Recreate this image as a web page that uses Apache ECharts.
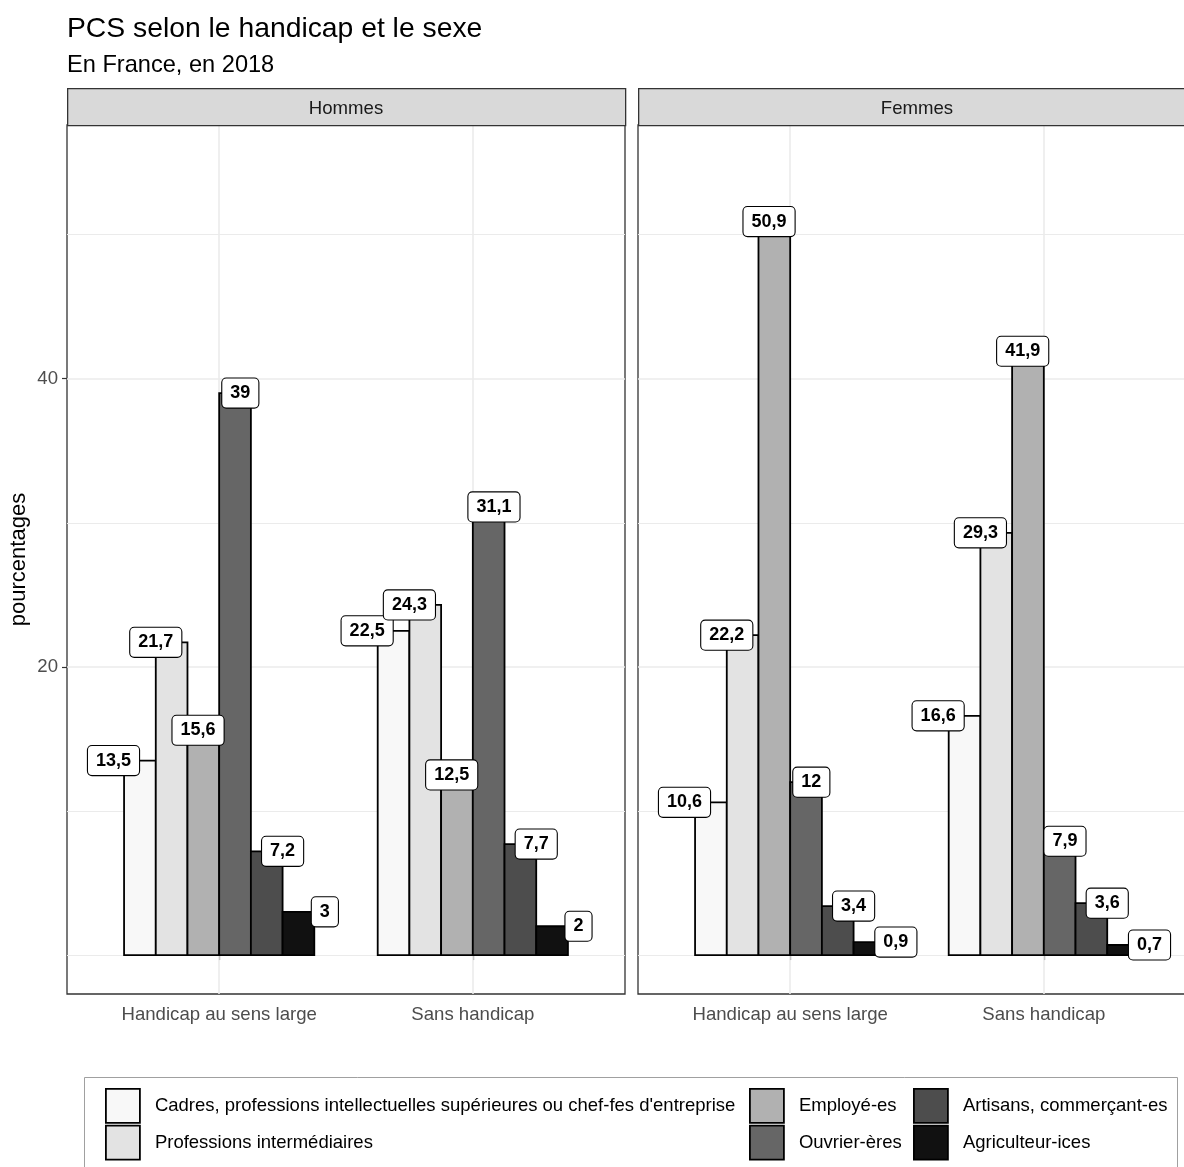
<!DOCTYPE html>
<html>
<head>
<meta charset="utf-8">
<script src="https://cdn.jsdelivr.net/npm/echarts@6/dist/echarts.min.js"></script>
<style>html,body{margin:0;padding:0;background:#fff;overflow:hidden;width:1184px;height:1167px}#chart{width:1200px;height:1167px}</style>
</head>
<body>
<div id="chart"></div>
<script>
// ---- data ----
const categories = [
  "Cadres, professions intellectuelles supérieures ou chef-fes d'entreprise",
  "Professions intermédiaires",
  "Employé-es",
  "Ouvrier-ères",
  "Artisans, commerçant-es",
  "Agriculteur-ices"
];
const groups = ["Handicap au sens large", "Sans handicap"];
const facets = ["Hommes", "Femmes"];
const hommesHandicap = [13.5, 21.7, 15.6, 39, 7.2, 3];
const hommesSans     = [22.5, 24.3, 12.5, 31.1, 7.7, 2];
const femmesHandicap = [10.6, 22.2, 50.9, 12, 3.4, 0.9];
const femmesSans     = [16.6, 29.3, 41.9, 7.9, 3.6, 0.7];
const yTicks = [20, 40];
const yGrid = [0, 10, 20, 30, 40, 50];

// ---- styles ----
const fills = ['#F8F8F8', '#E3E3E3', '#B1B1B1', '#666666', '#4D4D4D', '#111111'];
const FONT = "'Liberation Sans', Arial, sans-serif";
const BAR_W = 0.125;      // width of one dodged bar (axis units)
const LABEL_DODGE = 1 / 6; // label dodge spacing (axis units)

const facetData = [[hommesHandicap, hommesSans], [femmesHandicap, femmesSans]];

const chart = echarts.init(document.getElementById('chart'), null, {renderer: 'canvas', width: 1200, height: 1167});

const gridLeft = [67, 638];
const grids = gridLeft.map(l => ({left: l, top: 125, width: 558, height: 869, show: true,
  borderColor: '#333333', borderWidth: 1.3, backgroundColor: '#fff'}));

const xAxes = grids.map((g, f) => ({
  type: 'value', gridIndex: f, min: 0.4, max: 2.6,
  axisLine: {show: false},
  splitLine: {show: false},
  axisTick: {show: true, customValues: [1, 2], length: 5, lineStyle: {color: '#333333', width: 1.2}},
  axisLabel: {show: true, customValues: [1, 2], margin: 11, color: '#4D4D4D', fontSize: 18.6, fontFamily: FONT,
    formatter: v => groups[Math.round(v) - 1]}
}));
const yAxes = grids.map((g, f) => ({
  type: 'value', gridIndex: f, min: -2.7, max: 57.6,
  axisLine: {show: false},
  splitLine: {show: false},
  axisTick: {show: f === 0, customValues: yTicks, length: 5, lineStyle: {color: '#333333', width: 1.2}},
  axisLabel: {show: f === 0, customValues: yTicks, margin: 9, color: '#4D4D4D', fontSize: 18.6, fontFamily: FONT},
  name: f === 0 ? 'pourcentages' : '',
  nameLocation: 'middle', nameGap: 37,
  nameTextStyle: {color: '#000', fontSize: 22, fontFamily: FONT}
}));

const series = [];
facetData.forEach((fd, f) => {
  // grid lines
  series.push({
    type: 'line', xAxisIndex: f, yAxisIndex: f, data: [], silent: true, z: 1,
    markLine: {
      silent: true, symbol: 'none', label: {show: false}, animation: false,
      lineStyle: {color: '#EBEBEB', type: 'solid', width: 1.3},
      data: yGrid.map(v => ({yAxis: v, lineStyle: {width: yTicks.includes(v) ? 1.6 : 1}}))
        .concat([1, 2].map(v => ({xAxis: v, lineStyle: {width: 1.6}})))
    }
  });
  // bars, one series per category
  categories.forEach((c, i) => {
    series.push({
      type: 'custom', name: c, xAxisIndex: f, yAxisIndex: f, z: 10,
      itemStyle: {color: fills[i], borderColor: '#000', borderWidth: 1.8},
      encode: {x: 0, y: 1},
      data: groups.map((g, gi) => [gi + 1, fd[gi][i]]),
      renderItem: (params, api) => {
        const x = api.value(0), y = api.value(1);
        const xl = x + (i - 2.5) * BAR_W - BAR_W / 2;
        const p0 = api.coord([xl, y]);
        const p1 = api.coord([xl + BAR_W, 0]);
        return {type: 'rect', shape: {x: p0[0], y: p0[1], width: p1[0] - p0[0], height: p1[1] - p0[1]},
          style: {fill: fills[i], stroke: '#000', lineWidth: 1.8}};
      }
    });
  });
  // labels
  const labelData = [];
  groups.forEach((g, gi) => categories.forEach((c, i) => labelData.push([gi + 1, fd[gi][i], i])));
  series.push({
    type: 'custom', name: 'labels-' + f, xAxisIndex: f, yAxisIndex: f, z: 20, clip: false,
    encode: {x: 0, y: 1},
    data: labelData,
    renderItem: (params, api) => {
      const x = api.value(0) + (api.value(2) - 2.5) * LABEL_DODGE;
      const v = api.value(1);
      const p = api.coord([x, v]);
      return {type: 'text', x: p[0], y: p[1],
        style: {text: String(v).replace('.', ','), align: 'center', verticalAlign: 'middle',
          font: 'bold 18px ' + FONT, fill: '#000',
          backgroundColor: '#fff', borderColor: '#000', borderWidth: 1.1, borderRadius: 4,
          padding: [6, 8, 5, 8]}};
    }
  });
});

const legendDefs = [[0, 1, 105], [2, 3, 749], [4, 5, 913]];
const legends = legendDefs.map(([a, b, left]) => ({
  orient: 'vertical', left: left, top: 1088, padding: 0,
  itemWidth: 34, itemHeight: 34, itemGap: 1, selectedMode: false,
  icon: 'rect',
  textStyle: {fontSize: 18.5, color: '#000', fontFamily: FONT, padding: [0, 0, 0, 10]},
  data: [a, b].map(i => ({name: categories[i], icon: 'rect',
    itemStyle: {color: fills[i], borderColor: '#000', borderWidth: 1.8}}))
}));

const graphics = [];
gridLeft.forEach((l, f) => {
  graphics.push({type: 'rect', left: l, top: 88, shape: {width: 558, height: 37},
    style: {fill: '#D9D9D9', stroke: '#333333', lineWidth: 1.3}, z: 50});
  graphics.push({type: 'text', x: l + 279, y: 109,
    style: {text: facets[f], font: '18.6px ' + FONT, fill: '#1A1A1A', align: 'center', verticalAlign: 'middle'}, z: 51});
});
graphics.push({type: 'rect', left: 82, top: 1075, shape: {width: 1093, height: 120},
  style: {fill: 'none', stroke: '#A0A0A0', lineWidth: 1}, z: -1});

chart.setOption({
  animation: false,
  backgroundColor: '#fff',
  title: {text: 'PCS selon le handicap et le sexe', subtext: 'En France, en 2018',
    left: 67, top: 15, padding: 0, itemGap: 11,
    textStyle: {fontSize: 28.3, fontWeight: 'normal', color: '#000', fontFamily: FONT, lineHeight: 28},
    subtextStyle: {fontSize: 23.6, color: '#000', fontFamily: FONT, lineHeight: 23.6}},
  grid: grids,
  xAxis: xAxes,
  yAxis: yAxes,
  legend: legends,
  graphic: graphics,
  series: series
});
</script>
</body>
</html>
